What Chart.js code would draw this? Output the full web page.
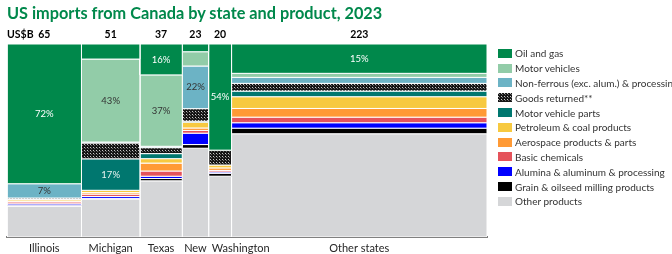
<!DOCTYPE html>
<html>
<head>
<meta charset="utf-8">
<script src="https://cdn.jsdelivr.net/npm/chart.js@4.4.1/dist/chart.umd.min.js"></script>
<style>
  body { margin: 0; width: 672px; height: 254px; overflow: hidden; background: #fff; position: relative; font-family: Lato, "Open Sans", sans-serif; }
  #title { position: absolute; left: 7px; top: 3px; font-size: 16.3px; font-weight: bold; color: #00884b; white-space: nowrap; }
  #unit { position: absolute; left: 7px; top: 28px; font-size: 10.5px; font-weight: bold; color: #000; }
  #legend { position: absolute; left: 498px; top: 46px; font-size: 10px; color: #333; }
  #legend div { height: 14.8px; display: flex; align-items: center; white-space: nowrap; }
  #legend span { display: inline-block; width: 14px; height: 9px; margin-right: 3px; flex: none; }
  canvas { position: absolute; left: 0; top: 0; }
</style>
</head>
<body>
<canvas id="chart" width="672" height="254"></canvas>
<div id="title">US imports from Canada by state and product, 2023</div>
<div id="unit">US$B</div>
<div id="legend"></div>
<script>
// states (column widths = total imports, US$B)
const states = ["Illinois", "Michigan", "Texas", "New York", "Washington", "Other states"];
const totals = [65, 51, 37, 23, 20, 223];

// share of each state's imports, % (top of column to bottom)
const oilGas        = [72.4, 7.8, 16, 4, 55, 15.2];
const motorVehicles = [0, 43, 37, 7.4, 0, 2.1];
const nonFerrous    = [7.4, 0.5, 0.7, 22.1, 0, 3.1];
const goodsReturned = [0.7, 8.2, 3.1, 6.5, 7.7, 4];
const mvParts       = [0.2, 16.3, 2.6, 0.5, 0, 2.9];
const petroleum     = [0.8, 1.2, 2.3, 3, 1.5, 6.1];
const aerospace     = [0.3, 0.8, 4.1, 1.3, 1.3, 4.5];
const chemicals     = [1, 1.2, 2.7, 1.4, 0.8, 2.9];
const alumina       = [0.7, 1, 1.2, 5.9, 0.7, 2.8];
const grain         = [0.5, 0.3, 1.2, 1.9, 1.5, 2.9];
const otherProducts = [16, 19.7, 29.1, 46, 31.5, 53.5];

// labels printed inside segments
const oilLabels = ["72%", "", "16%", "", "54%", "15%"];
const mvLabels = ["", "43%", "37%", "", "", ""];
const nonFerrousLabels = ["7%", "", "", "22%", "", ""];
const mvPartsLabels = ["", "17%", "", "", "", ""];

const products = [
  "Oil and gas",
  "Motor vehicles",
  "Non-ferrous (exc. alum.) & processing",
  "Goods returned**",
  "Motor vehicle parts",
  "Petroleum & coal products",
  "Aerospace products & parts",
  "Basic chemicals",
  "Alumina & aluminum & processing",
  "Grain & oilseed milling products",
  "Other products",
];
const series = [oilGas, motorVehicles, nonFerrous, goodsReturned, mvParts, petroleum,
  aerospace, chemicals, alumina, grain, otherProducts];
const segLabels = [oilLabels, mvLabels, nonFerrousLabels, null, mvPartsLabels];
const labelColors = ["#fff", "#333", "#333", null, "#e8f4f0"];

// hatched fill for "Goods returned"
function makePattern() {
  const c = document.createElement("canvas");
  c.width = 3;
  c.height = 3;
  const g = c.getContext("2d");
  g.fillStyle = "#161616";
  g.fillRect(0, 0, 3, 3);
  g.fillStyle = "#c8c8c8";
  g.fillRect(0, 0, 1, 1);
  g.fillStyle = "#6a6a6a";
  g.fillRect(1, 1, 1, 1);
  return c;
}
const patCanvas = makePattern();
const hatch = document.getElementById("chart").getContext("2d").createPattern(patCanvas, "repeat");

const colors = ["#00884b", "#92cca8", "#6cb3c5", hatch, "#00776f", "#f7c940",
  "#ff9a35", "#e5535b", "#0000ff", "#000000", "#d5d6d8"];

// x extents of the columns
const grandTotal = totals.reduce((a, b) => a + b, 0);
const starts = [];
totals.reduce((acc, t) => { starts.push(acc); return acc + t; }, 0);
const centers = totals.map((t, i) => starts[i] + t / 2);

// y extents of each segment, stacked from the top
const bounds = series.map(() => []);
states.forEach((s, si) => {
  let top = 100;
  series.forEach((arr, pi) => {
    bounds[pi][si] = { y1: top, y0: top - arr[si] };
    top -= arr[si];
  });
});

const datasets = [];
series.forEach((arr, pi) => {
  arr.forEach((v, si) => {
    if (!v) return;
    const x0 = starts[si], x1 = starts[si] + totals[si];
    const { y0, y1 } = bounds[pi][si];
    datasets.push({
      label: products[pi],
      data: [{ x: x0, y: y0 }, { x: x1, y: y0 }, { x: x1, y: y1 }, { x: x0, y: y1 }, { x: x0, y: y0 }],
      backgroundColor: colors[pi],
      borderColor: "#fff",
      borderWidth: 1,
      fill: "shape",
      pointRadius: 0,
      tension: 0,
    });
  });
});

// legend
const legend = document.getElementById("legend");
products.forEach((p, i) => {
  const bg = i === 3 ? `url(${patCanvas.toDataURL()})` : colors[i];
  legend.innerHTML += `<div><span style="background:${bg}"></span>${p}</div>`;
});

const measure = document.createElement("canvas").getContext("2d");

function columnTicks(scale) {
  scale.ticks = centers.map((v) => ({ value: v }));
}

// text inside the segments
const segmentText = {
  id: "segmentText",
  afterDatasetsDraw(chart) {
    const { ctx, scales } = chart;
    ctx.save();
    ctx.font = "9.5px Lato";
    ctx.textAlign = "center";
    ctx.textBaseline = "middle";
    segLabels.forEach((arr, pi) => {
      if (!arr) return;
      arr.forEach((txt, si) => {
        if (!txt) return;
        const b = bounds[pi][si];
        ctx.fillStyle = labelColors[pi];
        ctx.fillText(txt, scales.x.getPixelForValue(centers[si]), scales.y.getPixelForValue((b.y0 + b.y1) / 2));
      });
    });
    ctx.restore();
  },
};

// push a state name right when it would run into the previous one
const labelNudge = {
  id: "labelNudge",
  afterLayout(chart) {
    const scale = chart.scales.x;
    measure.font = Chart.helpers.toFont(scale.options.ticks.font).string;
    let prevRight = -Infinity;
    scale.ticks.forEach((t) => {
      const first = Array.isArray(t.label) ? t.label[0] : t.label;
      const w = measure.measureText(first).width;
      let px = scale.getPixelForValue(t.value);
      if (px - w / 2 < prevRight + 5) {
        px = prevRight + 5 + w / 2;
        t.value = scale.getValueForPixel(px);
      }
      prevRight = px + w / 2;
    });
  },
};

new Chart(document.getElementById("chart"), {
  type: "line",
  data: { datasets },
  plugins: [segmentText, labelNudge],
  options: {
    responsive: false,
    animation: false,
    layout: { padding: { left: 7, right: 185, top: 24, bottom: 0 } },
    plugins: { legend: { display: false }, tooltip: { enabled: false } },
    scales: {
      x: {
        type: "linear",
        position: "bottom",
        min: 0,
        max: grandTotal,
        afterBuildTicks: columnTicks,
        afterFit: (s) => { s.height = 17; },
        grid: { display: false, drawTicks: false },
        border: { display: true, color: "#808080", width: 2 },
        ticks: {
          autoSkip: false,
          maxRotation: 0,
          padding: 5,
          color: "#262626",
          font: { family: "Lato", size: 11 },
          callback: (v, i) => {
            const name = states[i];
            measure.font = "11px Lato";
            const colW = (totals[i] / grandTotal) * 480;
            return measure.measureText(name).width > colW && name.includes(" ") ? name.split(" ") : name;
          },
        },
      },
      x2: {
        type: "linear",
        position: "top",
        min: 0,
        max: grandTotal,
        afterBuildTicks: columnTicks,
        afterFit: (s) => { s.height = 20; },
        grid: { display: false, drawTicks: false },
        border: { display: false },
        ticks: {
          autoSkip: false,
          maxRotation: 0,
          padding: 3,
          color: "#000",
          font: { family: "Lato", size: 10.5, weight: "bold" },
          callback: (v, i) => String(totals[i]),
        },
      },
      y: { display: false, min: 0, max: 100 },
    },
  },
});
</script>
</body>
</html>
